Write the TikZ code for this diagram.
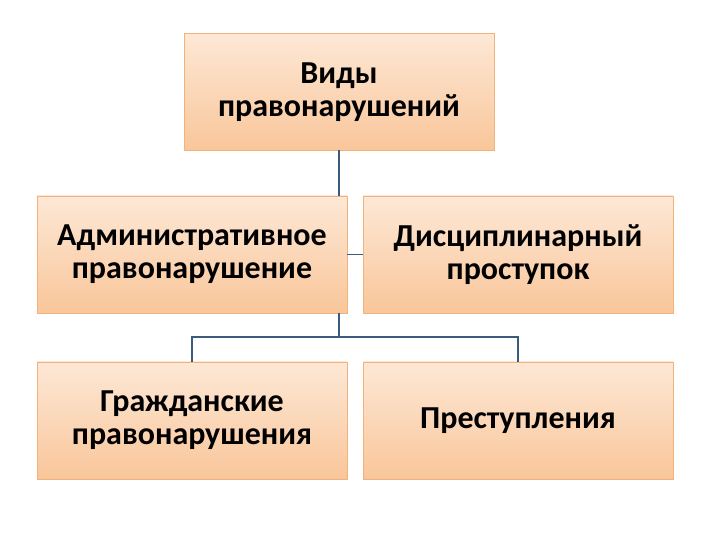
\documentclass[tikz,border=0pt]{standalone}
\usepackage{fontspec}
\setmainfont{Carlito}
\usetikzlibrary{positioning}
\definecolor{boxtop}{HTML}{FDE8D6}
\definecolor{boxbottom}{HTML}{F9C69A}
\definecolor{boxline}{HTML}{F2B27C}
\definecolor{linkline}{HTML}{3B5B7C}
\tikzset{
	x=1pt, y=1pt, % one unit is one pixel of the slide
	node distance=16pt, % gap between neighbouring boxes
	kind/.style={draw=boxline, thick, top color=boxtop, bottom color=boxbottom, minimum width=310pt, minimum height=117pt, inner sep=0pt, outer sep=0pt, align=center, font=\bfseries\fontsize{32}{33}\selectfont}, % sets the look of every box
	link/.style={draw=linkline, line width=1.8pt}, % the connecting lines
}
\begin{document}
\begin{tikzpicture}
	\useasboundingbox (0,0) rectangle (720,540);
			\node[kind] (root) at (339,448) {Виды\\правонарушений};
			\node[kind] (admin) at (192,285.5) {Административное\\правонарушение};
			\node[kind, right=of admin] (discip) {Дисциплинарный\\проступок};
			\node[kind, below=49pt of admin] (civil) {Гражданские\\правонарушения};
			\node[kind, right=of civil] (crime) {Преступления};
			\coordinate (hub) at (339,203);
	\draw[link] (root.south) -- (root.south |- admin.north)
			(admin.east) -- (discip.west)
			(hub |- admin.south) -- (hub)
			(hub) -| (civil.north)
			(hub) -| (crime.north);
\end{tikzpicture}
\end{document}
